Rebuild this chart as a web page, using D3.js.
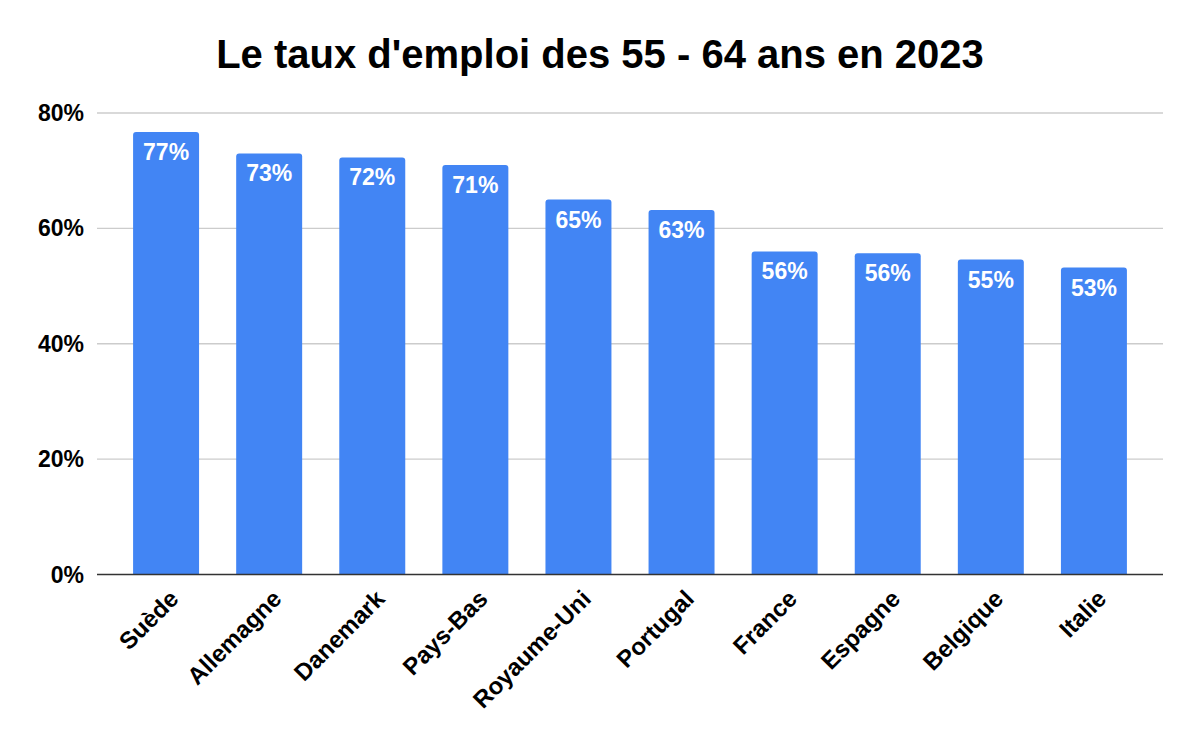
<!DOCTYPE html>
<html>
<head>
<meta charset="utf-8">
<script src="https://cdn.jsdelivr.net/npm/d3@7"></script>
<style>
  body { margin: 0; background: #fff; }
  text { font-family: "Liberation Sans", Arial, sans-serif; }
</style>
</head>
<body>
<div id="chart"></div>
<script>
var countries = ["Suède", "Allemagne", "Danemark", "Pays-Bas", "Royaume-Uni", "Portugal", "France", "Espagne", "Belgique", "Italie"];
var rates = [76.7, 73.0, 72.3, 71.0, 65.0, 63.2, 56.0, 55.7, 54.6, 53.2];
var yTicks = [0, 20, 40, 60, 80];

var width = 1200, height = 742;
var plotLeft = 97, plotRight = 1163, plotTop = 113, plotBottom = 574.5;

var svg = d3.select("#chart").append("svg")
  .attr("width", width)
  .attr("height", height);

svg.append("text")
  .attr("x", 600)
  .attr("y", 68)
  .attr("text-anchor", "middle")
  .attr("font-size", 40)
  .attr("font-weight", "bold")
  .attr("fill", "#000")
  .text("Le taux d'emploi des 55 - 64 ans en 2023");

var x = d3.scaleBand()
  .domain(countries)
  .range([plotLeft, plotRight])
  .paddingInner(0.36)
  .paddingOuter(0.35);

var y = d3.scaleLinear()
  .domain([0, 80])
  .range([plotBottom, plotTop]);

// grid
svg.append("g")
  .selectAll("line")
  .data(yTicks.filter(function(d) { return d > 0; }))
  .enter().append("line")
    .attr("x1", plotLeft)
    .attr("x2", plotRight)
    .attr("y1", function(d) { return y(d); })
    .attr("y2", function(d) { return y(d); })
    .attr("stroke", "#cccccc")
    .attr("stroke-width", 1.3);

// y labels
svg.append("g")
  .selectAll("text")
  .data(yTicks)
  .enter().append("text")
    .attr("x", plotLeft - 13)
    .attr("y", function(d) { return y(d); })
    .attr("dy", "0.35em")
    .attr("text-anchor", "end")
    .attr("font-size", 23)
    .attr("font-weight", "bold")
    .attr("fill", "#000")
    .text(function(d) { return d + "%"; });

// bars with rounded tops
var r = 3;
svg.append("g")
  .selectAll("path")
  .data(rates)
  .enter().append("path")
    .attr("fill", "#4285f4")
    .attr("d", function(d, i) {
      var x0 = x(countries[i]), w = x.bandwidth(), y0 = y(d), y1 = y(0);
      return "M" + x0 + "," + y1 +
        "V" + (y0 + r) +
        "Q" + x0 + "," + y0 + " " + (x0 + r) + "," + y0 +
        "H" + (x0 + w - r) +
        "Q" + (x0 + w) + "," + y0 + " " + (x0 + w) + "," + (y0 + r) +
        "V" + y1 + "Z";
    });

// value labels
svg.append("g")
  .selectAll("text")
  .data(rates)
  .enter().append("text")
    .attr("x", function(d, i) { return x(countries[i]) + x.bandwidth() / 2; })
    .attr("y", function(d) { return y(d) + 28; })
    .attr("text-anchor", "middle")
    .attr("font-family", "Roboto, sans-serif")
    .attr("font-size", 23)
    .attr("font-weight", "bold")
    .attr("fill", "#fff")
    .text(function(d) { return Math.round(d) + "%"; });

// axis line
svg.append("line")
  .attr("x1", plotLeft)
  .attr("x2", plotRight)
  .attr("y1", y(0))
  .attr("y2", y(0))
  .attr("stroke", "#333")
  .attr("stroke-width", 1.5);

// x labels
svg.append("g")
  .selectAll("text")
  .data(countries)
  .enter().append("text")
    .attr("transform", function(d) {
      return "translate(" + (x(d) + x.bandwidth() / 2 + 2) + "," + (plotBottom + 14) + ") rotate(-45)";
    })
    .attr("text-anchor", "end")
    .attr("dy", "0.7em")
    .attr("font-size", 24)
    .attr("font-weight", "bold")
    .attr("fill", "#000")
    .text(function(d) { return d; });
</script>
</body>
</html>
